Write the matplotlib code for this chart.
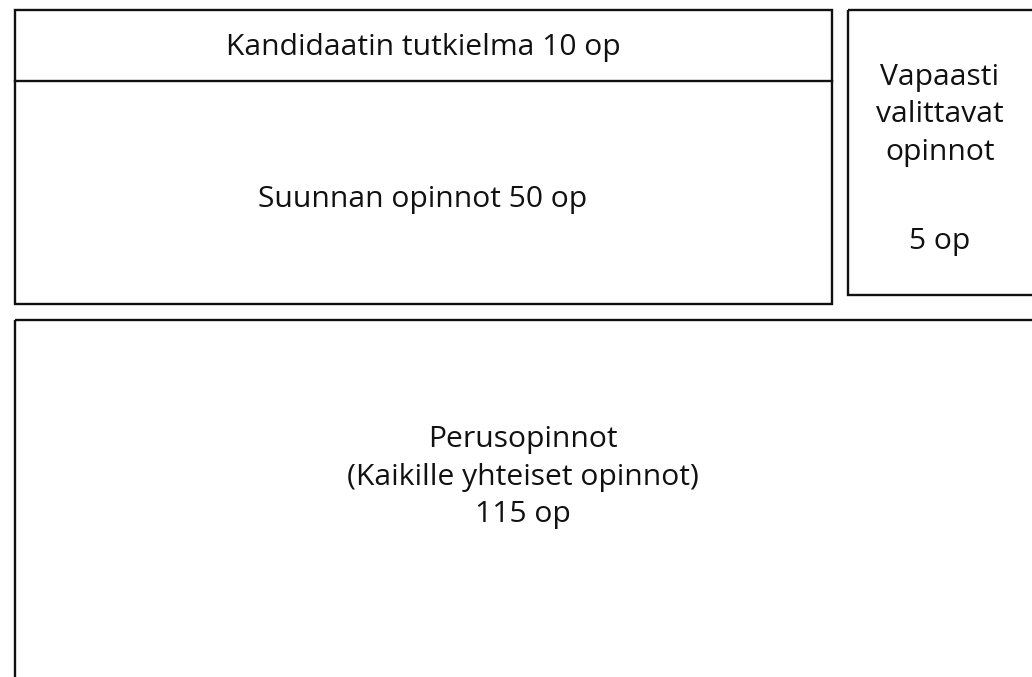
import matplotlib
matplotlib.use("Agg")
import matplotlib.pyplot as plt
from matplotlib.patches import Rectangle

# Boxes in pixel coordinates: (left, top, right, bottom)
boxes = [
    (15, 10, 832, 304),    # kandidaatin tutkielma + suunnan opinnot
    (848, 10, 1040, 295),  # vapaasti valittavat
    (15, 320, 1040, 690),  # perusopinnot (runs past the edge)
]
divider_y = 81

labels = [
    "Kandidaatin tutkielma 10 op",
    "Suunnan opinnot 50 op",
    "Vapaasti\nvalittavat\nopinnot",
    "5 op",
    "Perusopinnot\n(Kaikille yhteiset opinnot)\n115 op",
]
label_pos = [(423, 47), (423, 199), (940, 115), (940, 242), (523, 477)]

W, H = 1032, 677
fig = plt.figure(figsize=(W / 100, H / 100), dpi=100)
ax = fig.add_axes([0, 0, 1, 1])
ax.set_xlim(0, W)
ax.set_ylim(H, 0)
ax.axis("off")

for x0, y0, x1, y1 in boxes:
    ax.add_patch(Rectangle((x0, y0), x1 - x0, y1 - y0, fill=False,
                           edgecolor="#111111", lw=1.7))
ax.plot([boxes[0][0], boxes[0][2]], [divider_y, divider_y], color="#111111", lw=1.7)

for text, (x, y) in zip(labels, label_pos):
    ax.text(x, y, text, ha="center", va="center", fontsize=21.6,
            family="Open Sans", color="#111111", linespacing=1.38)

fig.savefig("out.png", dpi=100, facecolor="white")
